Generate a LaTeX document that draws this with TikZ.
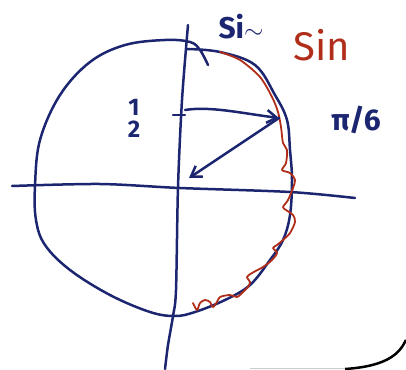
\documentclass[tikz,border=0pt]{standalone}
\usepackage{fontspec}
\setmainfont{Fira Sans}
\usepackage{tikz}
\usetikzlibrary{arrows.meta,positioning}
\definecolor{PenBlue}{HTML}{1C2670}
\definecolor{PenRed}{HTML}{B02D19}
\tikzset{
  ink/.style={draw=PenBlue,line width=2.5pt,line cap=round,line join=round},
  redink/.style={ink,draw=PenRed,line width=1.8pt},
  vec/.style={ink,-{Straight Barb[length=3.5mm,width=4.5mm]}},
  pen/.style={text=PenBlue,inner sep=0pt,font=\bfseries\fontsize{24}{24}\selectfont},
  redpen/.style={pen,text=PenRed,font=\fontsize{40}{40}\selectfont}
}

\begin{document}
\begin{tikzpicture}[x=1pt,y=-1pt]
  \useasboundingbox (0,0) rectangle (406,369);
  \draw[ink] plot[smooth,tension=0.6] coordinates{(187,49) (220,52) (255,65) (275,95) (287,120)
    (290,150) (292,180) (290,215) (283,240) (270,260) (250,285) (225,300) (195,312) (175,316)
    (150,312) (110,295) (70,270) (45,245) (36,220) (35,186) (40,140) (60,95) (90,62) (125,45)
    (165,40) (190,42) (200,50) (208,65)};
  \draw[ink] plot[smooth] coordinates{(12,186) (100,184) (180,188) (290,192) (355,198)};
  \draw[ink] plot[smooth] coordinates{(188,25) (182,100) (178,187) (176,290) (173,316) (168,345) (165,369)};
  \draw[redink] plot[smooth,tension=0.5] coordinates{(220,52) (240,60) (260,77) (272,97) (278,112)
    (281,127) (283,143) (287,150) (286,163) (282,170) (290,173) (295,180) (293,188) (288,200)
    (283,207) (286,210) (293,215) (295,222) (290,233) (283,240) (277,245) (273,248) (277,253)
    (272,260) (263,267) (252,273) (247,277) (250,282) (248,287) (243,292) (237,297) (230,295)
    (220,297) (217,302) (213,307) (210,302) (205,300) (200,303) (197,310) (193,303)};
  \coordinate (half) at (185,110);
  \coordinate (tip) at (279,118);
  \coordinate (orig) at (189,178);
  \draw[ink] (173,115) -- (185,115);
  \draw[vec] (half) .. controls (210,106) and (240,113) .. (tip);
  \draw[vec] (tip) -- (orig);
  \node[pen] (one) at (134,107) {1};
  \node[pen,below=5pt of one] (two) {2};
  \node[pen,font=\bfseries\fontsize{30}{30}\selectfont] (si) at (241,27) {Si$\sim$};
  \node[redpen] (sin) at (322,45) {Sin};
  \node[pen,font=\bfseries\fontsize{30}{30}\selectfont] (pisix) at (356,120) {π/6};
  \draw[line width=2.5pt] (345,369) .. controls (390,366) and (400,352) .. (406,340);
  \draw[gray!40,line width=1pt] (250,368) -- (345,368);
\end{tikzpicture}
\end{document}
